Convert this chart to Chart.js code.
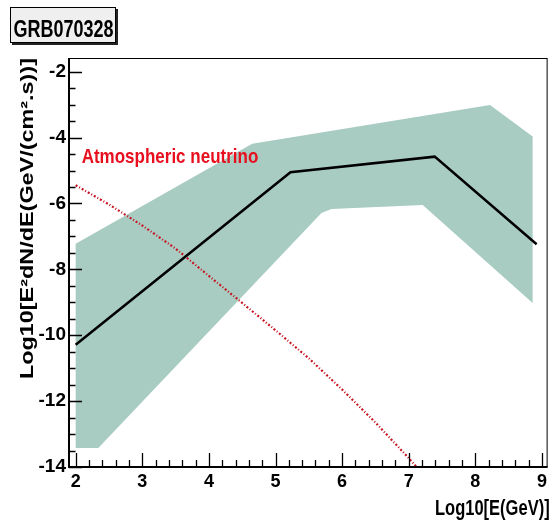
<!DOCTYPE html>
<html><head><meta charset="utf-8">
<script src="https://cdn.jsdelivr.net/npm/chart.js@4"></script>
<style>html,body{margin:0;padding:0;background:#fff}canvas{display:block}</style>
</head><body>
<canvas id="c" width="551" height="523"></canvas>
<script>
// ---- texts ----
const chartTitle = 'GRB070328';
const xAxisTitle = 'Log10[E(GeV)]';
const yAxisTitle = 'Log10[E\u00B2dN/dE(GeV/(cm\u00B2.s))]';
const atmLabel = 'Atmospheric neutrino';

// ---- data ----
const fluxX = [2, 5.225, 7.39, 8.92];
const fluxY = [-10.29, -5.05, -4.58, -7.24];

const bandUpperX = [2, 4.65, 8.22, 8.86];
const bandUpperY = [-7.22, -4.19, -3.01, -3.97];
const bandLowerX = [2, 2.34, 5.69, 5.84, 7.21, 8.86];
const bandLowerY = [-13.42, -13.42, -6.29, -6.17, -6.05, -9.02];

const atmX = [2, 2.5, 3, 3.5, 4, 4.5, 5, 5.5, 6, 6.5, 7, 7.12];
const atmY = [-5.45, -6.03, -6.67, -7.37, -8.2, -9.02, -9.85, -10.7, -11.65, -12.65, -13.73, -14];

const xTicks = [2, 3, 4, 5, 6, 7, 8, 9];
const yTicks = [-14, -12, -10, -8, -6, -4, -2];

// ---- build library data ----
const pts = (xs, ys) => xs.map((v, i) => ({x: v, y: ys[i]}));
const bandPolygon = pts(bandUpperX, bandUpperY).concat(pts(bandLowerX, bandLowerY).reverse());

const FONT = "'Liberation Sans', Arial, sans-serif";

const rootStyle = {
  id: 'rootStyle',
  afterDraw(chart) {
    const {ctx, chartArea: a, scales: {x, y}} = chart;
    ctx.save();
    // frame
    ctx.strokeStyle = '#000';
    ctx.lineWidth = 1;
    ctx.strokeRect(a.left + 0.5, a.top + 0.5, a.right - a.left - 1, a.bottom - a.top - 1);
    ctx.lineWidth = 2;
    ctx.beginPath();
    ctx.moveTo(a.left, a.top); ctx.lineTo(a.left, a.bottom); ctx.lineTo(a.right, a.bottom);
    ctx.stroke();
    // inward ticks, x
    ctx.lineWidth = 1.3;
    ctx.beginPath();
    for (let k = Math.ceil(x.min / 0.2); k * 0.2 <= x.max + 1e-9; k++) {
      const v = k * 0.2;
      const major = Math.abs(v - Math.round(v)) < 1e-6;
      const px = Math.round(x.getPixelForValue(v)) + 0.5;
      ctx.moveTo(px, a.bottom);
      ctx.lineTo(px, a.bottom - (major ? 14 : 7));
    }
    // inward ticks, y
    for (let k = Math.ceil(y.min / 0.5); k * 0.5 <= y.max + 1e-9; k++) {
      const v = k * 0.5;
      const major = Math.abs(v / 2 - Math.round(v / 2)) < 1e-6;
      const py = Math.round(y.getPixelForValue(v)) + 0.5;
      ctx.moveTo(a.left, py);
      ctx.lineTo(a.left + (major ? 13 : 6.5), py);
    }
    ctx.stroke();

    ctx.fillStyle = '#000';
    // y axis title (rotated, anchored at top of plot)
    ctx.save();
    ctx.font = 'bold 18px ' + FONT;
    ctx.textAlign = 'right';
    ctx.textBaseline = 'middle';
    ctx.translate(28, a.top);
    ctx.rotate(-Math.PI / 2);
    ctx.scale(1.3, 1);
    ctx.fillText(yAxisTitle, 0, 0);
    ctx.restore();
    // x axis title (right aligned at plot right)
    ctx.save();
    ctx.font = 'bold 16.5px ' + FONT;
    ctx.textAlign = 'right';
    ctx.textBaseline = 'alphabetic';
    ctx.translate(a.right + 2, 515);
    ctx.scale(1, 1.35);
    ctx.fillText(xAxisTitle, 0, 0);
    ctx.restore();

    // title box
    ctx.fillStyle = '#222';
    ctx.fillRect(12, 9, 106, 36);
    ctx.fillStyle = '#efefef';
    ctx.fillRect(10, 7, 106, 36);
    ctx.lineWidth = 1;
    ctx.strokeStyle = '#000';
    ctx.strokeRect(10.5, 7.5, 105, 35);
    ctx.fillStyle = '#000';
    ctx.font = 'bold 18px ' + FONT;
    ctx.textAlign = 'center';
    ctx.textBaseline = 'alphabetic';
    ctx.save();
    ctx.translate(63.5, 37);
    ctx.scale(1, 1.33);
    ctx.fillText(chartTitle, 0, 0);
    ctx.restore();

    // atmospheric neutrino label
    ctx.fillStyle = '#e8101e';
    ctx.font = 'bold 17px ' + FONT;
    ctx.textAlign = 'left';
    ctx.save();
    ctx.translate(x.getPixelForValue(2.09), y.getPixelForValue(-4.77));
    ctx.scale(1, 1.23);
    ctx.fillText(atmLabel, 0, 0);
    ctx.restore();
    ctx.restore();
  }
};

new Chart(document.getElementById('c'), {
  type: 'scatter',
  data: {
    datasets: [
      {label: 'flux', data: pts(fluxX, fluxY), showLine: true, borderColor: '#000', borderWidth: 2.5,
       pointRadius: 0, fill: false, tension: 0},
      {label: 'atm', data: pts(atmX, atmY), showLine: true, borderColor: '#c8121f', borderWidth: 2.2,
       borderDash: [2, 2, 1, 2], pointRadius: 0, fill: false, tension: 0},
      {label: 'band', data: bandPolygon, showLine: true, borderWidth: 0, borderColor: 'rgba(0,0,0,0)',
       backgroundColor: '#a8cbc2', fill: 'shape', pointRadius: 0, tension: 0}
    ]
  },
  options: {
    responsive: false,
    animation: false,
    layout: {padding: {left: 0, right: 3, top: 58, bottom: 0}},
    plugins: {legend: {display: false}, tooltip: {enabled: false}, title: {display: false}},
    scales: {
      x: {
        type: 'linear', position: 'bottom', min: 1.9, max: 9.085,
        grid: {display: false, drawTicks: false}, border: {display: false},
        ticks: {font: {family: FONT, size: 18, weight: 'bold'}, color: '#000', padding: 4,
                maxRotation: 0, autoSkip: false},
        afterBuildTicks: s => { s.ticks = xTicks.map(v => ({value: v})); },
        afterFit: s => { s.height = 56; },
        title: {display: false, text: xAxisTitle}
      },
      y: {
        type: 'linear', position: 'left', min: -14, max: -1.585,
        grid: {display: false, drawTicks: false}, border: {display: false},
        ticks: {font: {family: FONT, size: 19, weight: 'bold'}, color: '#000', padding: 3, autoSkip: false},
        afterBuildTicks: s => { s.ticks = yTicks.map(v => ({value: v})); },
        afterFit: s => { s.width = 69; },
        title: {display: false, text: yAxisTitle}
      }
    }
  },
  plugins: [rootStyle]
});
</script>
</body></html>
